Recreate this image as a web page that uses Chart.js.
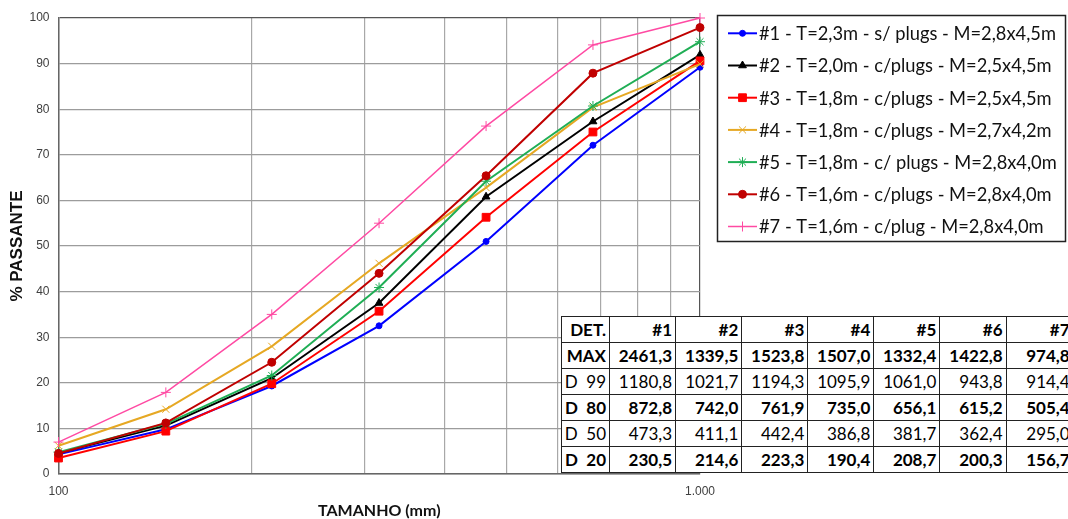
<!DOCTYPE html>
<html>
<head>
<meta charset="utf-8">
<script src="https://cdn.jsdelivr.net/npm/chart.js@4.4.1/dist/chart.umd.min.js"></script>
<style>
  html, body { margin: 0; padding: 0; background: #fff; overflow: hidden; width: 1068px; height: 519px; }
  #wrap { position: relative; width: 1068px; height: 519px; overflow: hidden; }
  #chart { position: absolute; left: 0; top: 0; }
  #det {
    position: absolute; left: 561px; top: 315.5px; width: 511px;
    border-collapse: collapse; table-layout: fixed; background: #fff;
    font-family: Lato, 'Open Sans', sans-serif; font-size: 17px; color: #000;
  }
  #det td {
    border: 1.6px solid #222; height: 26px; padding: 1px 3px 0 0;
    text-align: right; white-space: pre; line-height: 20px; box-sizing: border-box;
    overflow: hidden;
  }
  #det td.b { font-weight: bold; }
</style>
</head>
<body>
<div id="wrap">
  <canvas id="chart" width="1068" height="519"></canvas>
  <table id="det"></table>
</div>
<script>
// Sieve sizes (mm) and % passing for each blast
const sizes = [100, 147, 215, 316, 464, 681, 1000];
const det1 = [4.3, 9.8, 19.3, 32.5, 51.0, 72.1, 89.2];
const det2 = [4.6, 10.6, 21.0, 37.5, 60.8, 77.3, 91.9];
const det3 = [3.5, 9.4, 19.8, 35.7, 56.3, 75.0, 90.6];
const det4 = [6.2, 14.2, 28.0, 46.2, 62.8, 80.4, 89.9];
const det5 = [4.8, 11.0, 21.6, 40.9, 64.2, 80.7, 94.8];
const det6 = [4.5, 11.2, 24.5, 44.0, 65.4, 87.9, 97.9];
const det7 = [7.0, 17.9, 35.0, 55.0, 76.3, 94.1, 100.0];

const seriesLabels = [
  '#1 - T=2,3m - s/ plugs - M=2,8x4,5m',
  '#2 - T=2,0m - c/plugs - M=2,5x4,5m',
  '#3 - T=1,8m - c/plugs - M=2,5x4,5m',
  '#4 - T=1,8m - c/plugs - M=2,7x4,2m',
  '#5 - T=1,8m - c/ plugs - M=2,8x4,0m',
  '#6 - T=1,6m - c/plugs - M=2,8x4,0m',
  '#7 - T=1,6m - c/plug - M=2,8x4,0m'
];

// Axis ticks
const yTicks = [0, 10, 20, 30, 40, 50, 60, 70, 80, 90, 100];
const xGrid = [100, 200, 300, 400, 500, 600, 700, 800, 900, 1000];
const xLabels = { 100: '100', 1000: '1.000' };

// Summary table (mm)
const tableHead = ['DET.', '#1', '#2', '#3', '#4', '#5', '#6', '#7'];
const rowMax = ['2461,3', '1339,5', '1523,8', '1507,0', '1332,4', '1422,8', '974,8'];
const rowD99 = ['1180,8', '1021,7', '1194,3', '1095,9', '1061,0', '943,8', '914,4'];
const rowD80 = ['872,8', '742,0', '761,9', '735,0', '656,1', '615,2', '505,4'];
const rowD50 = ['473,3', '411,1', '442,4', '386,8', '381,7', '362,4', '295,0'];
const rowD20 = ['230,5', '214,6', '223,3', '190,4', '208,7', '200,3', '156,7'];

// Build the table
(function () {
  const t = document.getElementById('det');
  const cg = document.createElement('colgroup');
  [48, 66, 66.3, 66, 66, 66, 66.3, 67].forEach(w => {
    const c = document.createElement('col'); c.style.width = w + 'px'; cg.appendChild(c);
  });
  t.appendChild(cg);
  const rows = [
    { head: 'DET.', vals: tableHead.slice(1), bold: true },
    { head: 'MAX', vals: rowMax, bold: true },
    { head: 'D  99', vals: rowD99, bold: false },
    { head: 'D  80', vals: rowD80, bold: true },
    { head: 'D  50', vals: rowD50, bold: false },
    { head: 'D  20', vals: rowD20, bold: true }
  ];
  rows.forEach(r => {
    const tr = document.createElement('tr');
    [r.head].concat(r.vals).forEach(v => {
      const td = document.createElement('td');
      td.textContent = v;
      if (r.bold) td.className = 'b';
      tr.appendChild(td);
    });
    t.appendChild(tr);
  });
})();

const styles = [
  { color: '#0000ff', point: 'circle',   r: 3,   pw: 1,   lw: 2 },
  { color: '#000000', point: 'triangle', r: 4.5, pw: 1,   lw: 2 },
  { color: '#ff0000', point: 'rect',     r: 5.5, pw: 1,   lw: 2 },
  { color: '#e6a823', point: 'crossRot', r: 5,   pw: 1,   lw: 2 },
  { color: '#1fae55', point: 'star',     r: 5,   pw: 1,   lw: 2 },
  { color: '#c00000', point: 'circle',   r: 4,   pw: 1,   lw: 2 },
  { color: '#ff4aa3', point: 'cross',    r: 5,   pw: 1,   lw: 1.5 }
];
const allSeries = [det1, det2, det3, det4, det5, det6, det7];

const datasets = allSeries.map((vals, i) => ({
  label: seriesLabels[i],
  data: sizes.map((s, k) => ({ x: s, y: vals[k] })),
  borderColor: styles[i].color,
  backgroundColor: styles[i].color,
  borderWidth: styles[i].lw,
  pointStyle: styles[i].point,
  pointRadius: styles[i].r,
  pointBorderWidth: styles[i].pw,
  pointBackgroundColor: styles[i].color,
  pointBorderColor: styles[i].color,
  tension: 0,
  clip: false,
  order: allSeries.length - i
}));

// Boxed legend drawn at the right of the plot
const boxLegend = {
  id: 'boxLegend',
  afterDraw(chart) {
    const ctx = chart.ctx;
    ctx.save();
    const bx = 717, by = 15, bw = 349, bh = 227;
    ctx.fillStyle = '#fff';
    ctx.fillRect(bx, by, bw, bh);
    ctx.strokeStyle = '#222';
    ctx.lineWidth = 1.5;
    ctx.strokeRect(bx + 0.5, by + 0.5, bw - 1, bh - 1);
    ctx.font = '17px Lato';
    const w0 = ctx.measureText(seriesLabels[0]).width;
    const fs = 17 * 297 / w0;
    chart.data.datasets.forEach((ds, i) => {
      const y = 33.3 + i * 32.2;
      ctx.strokeStyle = ds.borderColor;
      ctx.lineWidth = ds.borderWidth;
      ctx.beginPath(); ctx.moveTo(728, y); ctx.lineTo(757, y); ctx.stroke();
      ctx.fillStyle = ds.pointBackgroundColor;
      ctx.lineWidth = ds.pointBorderWidth;
      Chart.helpers.drawPoint(ctx, {
        pointStyle: ds.pointStyle, radius: ds.pointRadius, rotation: 0, borderWidth: ds.pointBorderWidth
      }, 742.5, y);
      ctx.fillStyle = '#111';
      ctx.font = fs.toFixed(2) + 'px Lato';
      ctx.textBaseline = 'middle';
      ctx.textAlign = 'left';
      ctx.fillText(ds.label, 759, y + 1);
    });
    ctx.restore();
  }
};

const tickFont = { family: "'Liberation Sans', Arial, sans-serif", size: 12 };

new Chart(document.getElementById('chart'), {
  type: 'line',
  data: { datasets },
  plugins: [boxLegend],
  options: {
    responsive: false,
    animation: false,
    events: [],
    layout: { padding: { top: 18, right: 368, left: 0, bottom: 0 } },
    plugins: { legend: { display: false }, tooltip: { enabled: false } },
    scales: {
      x: {
        type: 'logarithmic',
        min: 100, max: 1000,
        afterBuildTicks: s => { s.ticks = xGrid.map(v => ({ value: v })); },
        afterFit: s => { s.height = 45; },
        ticks: {
          autoSkip: false, maxRotation: 0, minRotation: 0, padding: 10,
          font: tickFont, color: '#404040',
          callback: v => xLabels[v] || ''
        },
        grid: {
          drawTicks: false,
          color: c => (c.tick && (c.tick.value === 1000)) ? '#555555' : '#a8a8a8',
          lineWidth: 1.2
        },
        border: { color: '#666666', width: 1.5 },
        title: {
          display: true, text: 'TAMANHO (mm)', color: '#111',
          font: { family: 'Lato', weight: 'bold', size: 16, lineHeight: 1 },
          padding: { top: 0, bottom: 0 }
        }
      },
      y: {
        min: 0, max: 100,
        afterBuildTicks: s => { s.ticks = yTicks.map(v => ({ value: v })); },
        afterFit: s => { s.width = 58.5; },
        ticks: { padding: 9, font: tickFont, color: '#404040' },
        grid: {
          drawTicks: false,
          color: c => (c.tick && c.tick.value === 100) ? '#555555' : '#9c9c9c',
          lineWidth: 1.3
        },
        border: { color: '#666666', width: 1.5 },
        title: {
          display: true, text: '% PASSANTE', color: '#111',
          font: { family: "'Liberation Sans', Arial, sans-serif", weight: 'bold', size: 17, lineHeight: 1.2 },
          padding: { top: 7, bottom: 0 }
        }
      }
    }
  }
});
</script>
</body>
</html>
